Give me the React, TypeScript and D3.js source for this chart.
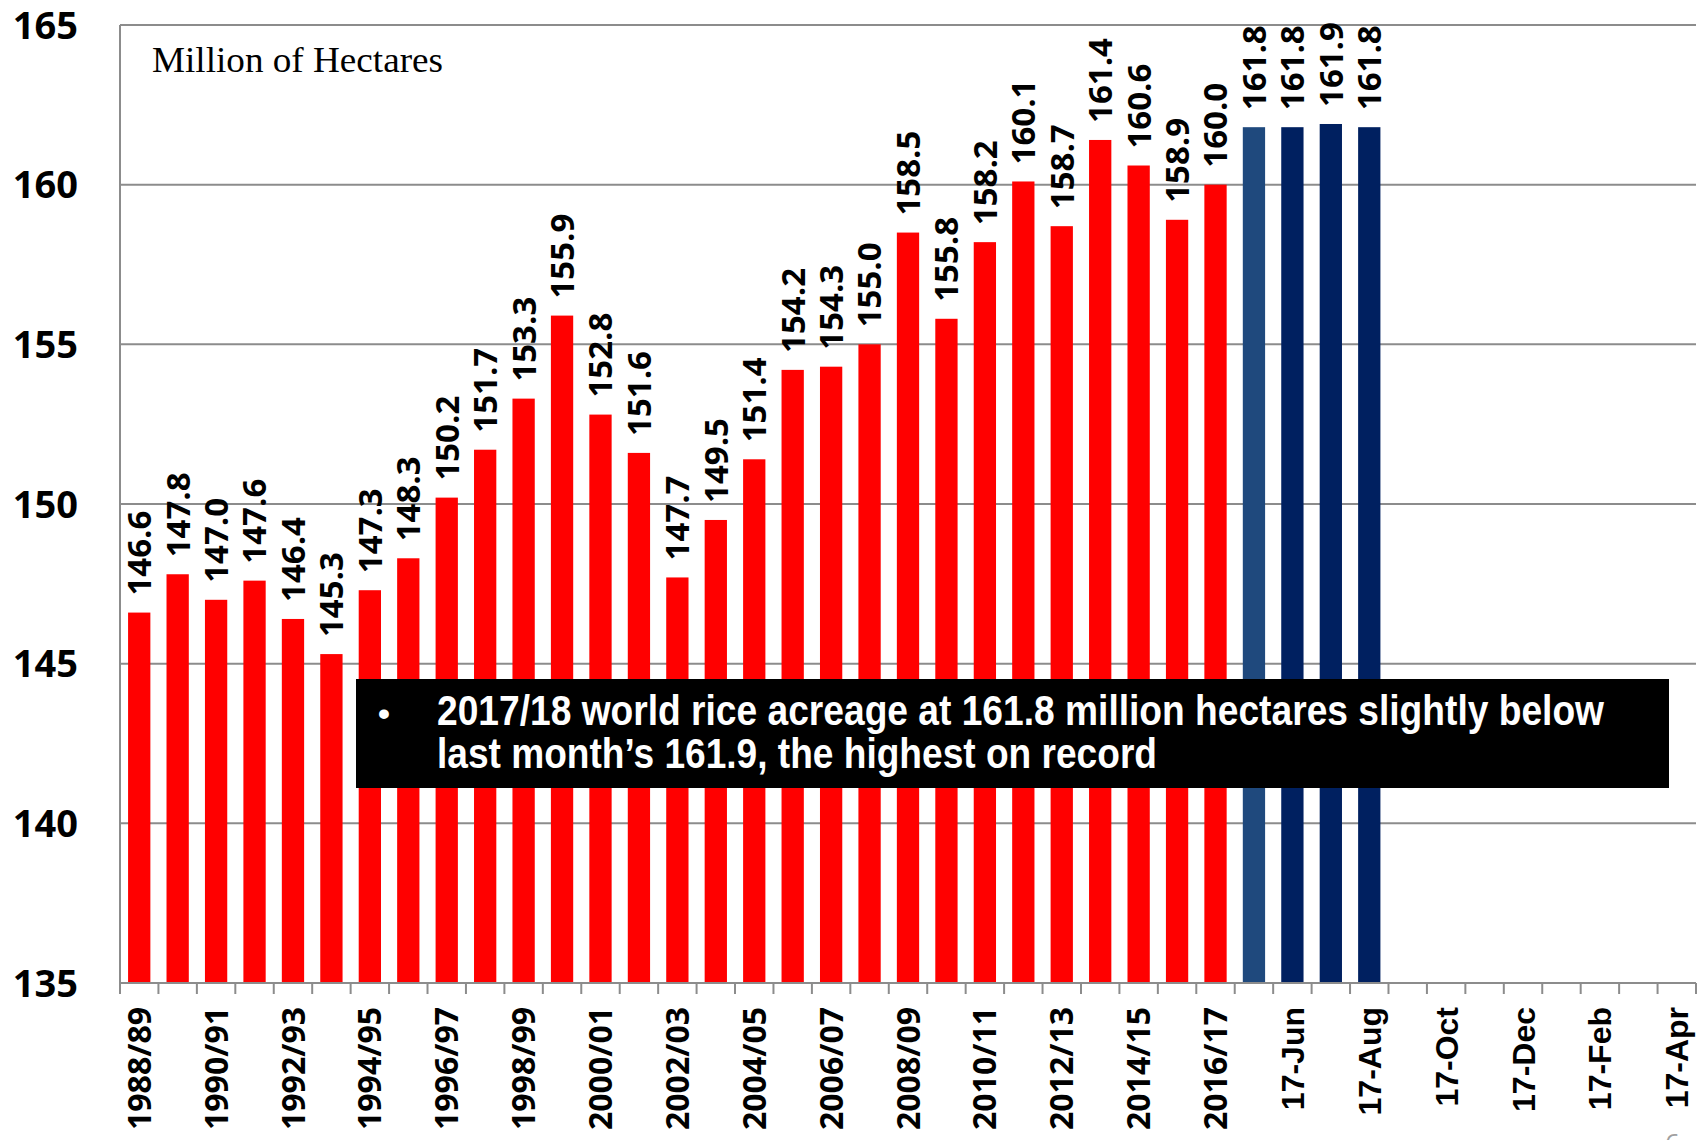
import React from "react";
import * as d3 from "d3";

const yearCategories = [
  "1988/89", "1989/90", "1990/91", "1991/92", "1992/93", "1993/94", "1994/95", "1995/96",
  "1996/97", "1997/98", "1998/99", "1999/00", "2000/01", "2001/02", "2002/03", "2003/04",
  "2004/05", "2005/06", "2006/07", "2007/08", "2008/09", "2009/10", "2010/11", "2011/12",
  "2012/13", "2013/14", "2014/15", "2015/16", "2016/17",
];
const yearValues = [
  146.6, 147.8, 147.0, 147.6, 146.4, 145.3, 147.3, 148.3, 150.2, 151.7, 153.3, 155.9,
  152.8, 151.6, 147.7, 149.5, 151.4, 154.2, 154.3, 155.0, 158.5, 155.8, 158.2, 160.1,
  158.7, 161.4, 160.6, 158.9, 160.0,
];
const monthCategories = [
  "17-May", "17-Jun", "17-Jul", "17-Aug", "17-Sep", "17-Oct",
  "17-Nov", "17-Dec", "17-Jan", "17-Feb", "17-Mar", "17-Apr",
];
const monthValues = [161.8, 161.8, 161.9, 161.8];
const yTicks = [135, 140, 145, 150, 155, 160, 165];
const annotationLines = [
  "2017/18 world rice acreage at 161.8 million hectares slightly below",
  "last month\u2019s 161.9, the highest on record",
];
const unitLabel = "Million of Hectares";

const W = 1703;
const H = 1140;
const LEFT = 120;
const RIGHT = 1696;
const TOP = 25;
const BOTTOM = 983;

export default function App() {
  const categories = [...yearCategories, ...monthCategories];
  const bars = [
    ...yearCategories.map((c, i) => ({ cat: c, value: yearValues[i], color: "#FF0000" })),
    ...monthValues.map((v, i) => ({
      cat: monthCategories[i],
      value: v,
      color: i === 0 ? "#1F497D" : "#002060",
    })),
  ];

  const x = d3
    .scaleBand<string>()
    .domain(categories)
    .range([LEFT, RIGHT])
    .paddingInner(0.42)
    .paddingOuter(0.21);
  const y = d3.scaleLinear().domain([135, 165]).range([BOTTOM, TOP]);
  const step = x.step();
  const grey = "#8C8C8C";

  return (
    <svg
      width={W}
      height={H}
      viewBox={`0 0 ${W} ${H}`}
      style={{ position: "absolute", left: 0, top: 0, display: "block", background: "#fff" }}
    >
      <rect x={0} y={0} width={W} height={H} fill="#fff" />
      {/* gridlines */}
      {yTicks.map((t) => (
        <line key={"g" + t} x1={LEFT} x2={RIGHT} y1={y(t)} y2={y(t)} stroke={grey} strokeWidth={2} />
      ))}
      {/* y tick labels */}
      {yTicks.map((t) => (
        <text
          key={"yl" + t}
          x={78}
          y={y(t)}
          dy="0.36em"
          textAnchor="end"
          fontFamily="'Open Sans', sans-serif"
          fontWeight={700}
          fontSize={38}
          fill="#000"
        >
          {t}
        </text>
      ))}
      {/* bars */}
      {bars.map((b) => (
        <rect
          key={"b" + b.cat}
          x={x(b.cat)!}
          y={y(b.value)}
          width={x.bandwidth()}
          height={y(135) - y(b.value)}
          fill={b.color}
        />
      ))}
      {/* data labels */}
      {bars.map((b) => {
        const cx = x(b.cat)! + x.bandwidth() / 2;
        const ty = y(b.value) - 17;
        return (
          <text
            key={"dl" + b.cat}
            transform={`translate(${cx},${ty}) rotate(-90)`}
            dy="0.36em"
            textAnchor="start"
            fontFamily="'Open Sans', sans-serif"
            fontWeight={700}
            fontSize={33}
            fill="#000"
          >
            {b.value.toFixed(1)}
          </text>
        );
      })}
      {/* axes */}
      <line x1={LEFT} x2={LEFT} y1={TOP} y2={BOTTOM} stroke={grey} strokeWidth={2} />
      <line x1={LEFT} x2={RIGHT} y1={BOTTOM} y2={BOTTOM} stroke={grey} strokeWidth={2} />
      {d3.range(categories.length + 1).map((i) => (
        <line
          key={"tk" + i}
          x1={LEFT + i * step}
          x2={LEFT + i * step}
          y1={BOTTOM}
          y2={BOTTOM + 11}
          stroke={grey}
          strokeWidth={2}
        />
      ))}
      {/* x labels */}
      {categories.map((c, i) => {
        if (i % 2 !== 0) return null;
        const cx = x(c)! + x.bandwidth() / 2;
        const isMonth = i >= yearCategories.length;
        return (
          <text
            key={"xl" + c}
            transform={`translate(${cx},${1007}) rotate(-90)`}
            dy="0.36em"
            textAnchor="end"
            fontFamily={isMonth ? "'Liberation Sans', Arial, sans-serif" : "'Open Sans', sans-serif"}
            fontWeight={700}
            fontSize={32}
            fill="#000"
          >
            {c}
          </text>
        );
      })}
      {/* unit label */}
      <text
        x={152}
        y={72}
        fontFamily="'Liberation Serif', 'Times New Roman', serif"
        fontSize={35}
        textLength={291}
        lengthAdjust="spacingAndGlyphs"
        fill="#000"
      >
        {unitLabel}
      </text>
      {/* annotation box */}
      <rect x={356} y={679} width={1669 - 356} height={109} fill="#000" />
      <text x={378} y={725} fontFamily="'Liberation Sans', Arial, sans-serif" fontWeight={700} fontSize={34} fill="#fff">
        {"\u2022"}
      </text>
      {annotationLines.map((l, i) => (
        <text
          key={"an" + i}
          x={437}
          y={725 + i * 43}
          fontFamily="'Liberation Sans', Arial, sans-serif"
          fontWeight={700}
          fontSize={42}
          textLength={i === 0 ? 1167 : 720}
          lengthAdjust="spacingAndGlyphs"
          fill="#fff"
        >
          {l}
        </text>
      ))}
      {/* page number (cut off) */}
      <text x={1665} y={1152} fontFamily="'Open Sans', sans-serif" fontSize={26} fill="#A0A0A0">
        6
      </text>
    </svg>
  );
}
